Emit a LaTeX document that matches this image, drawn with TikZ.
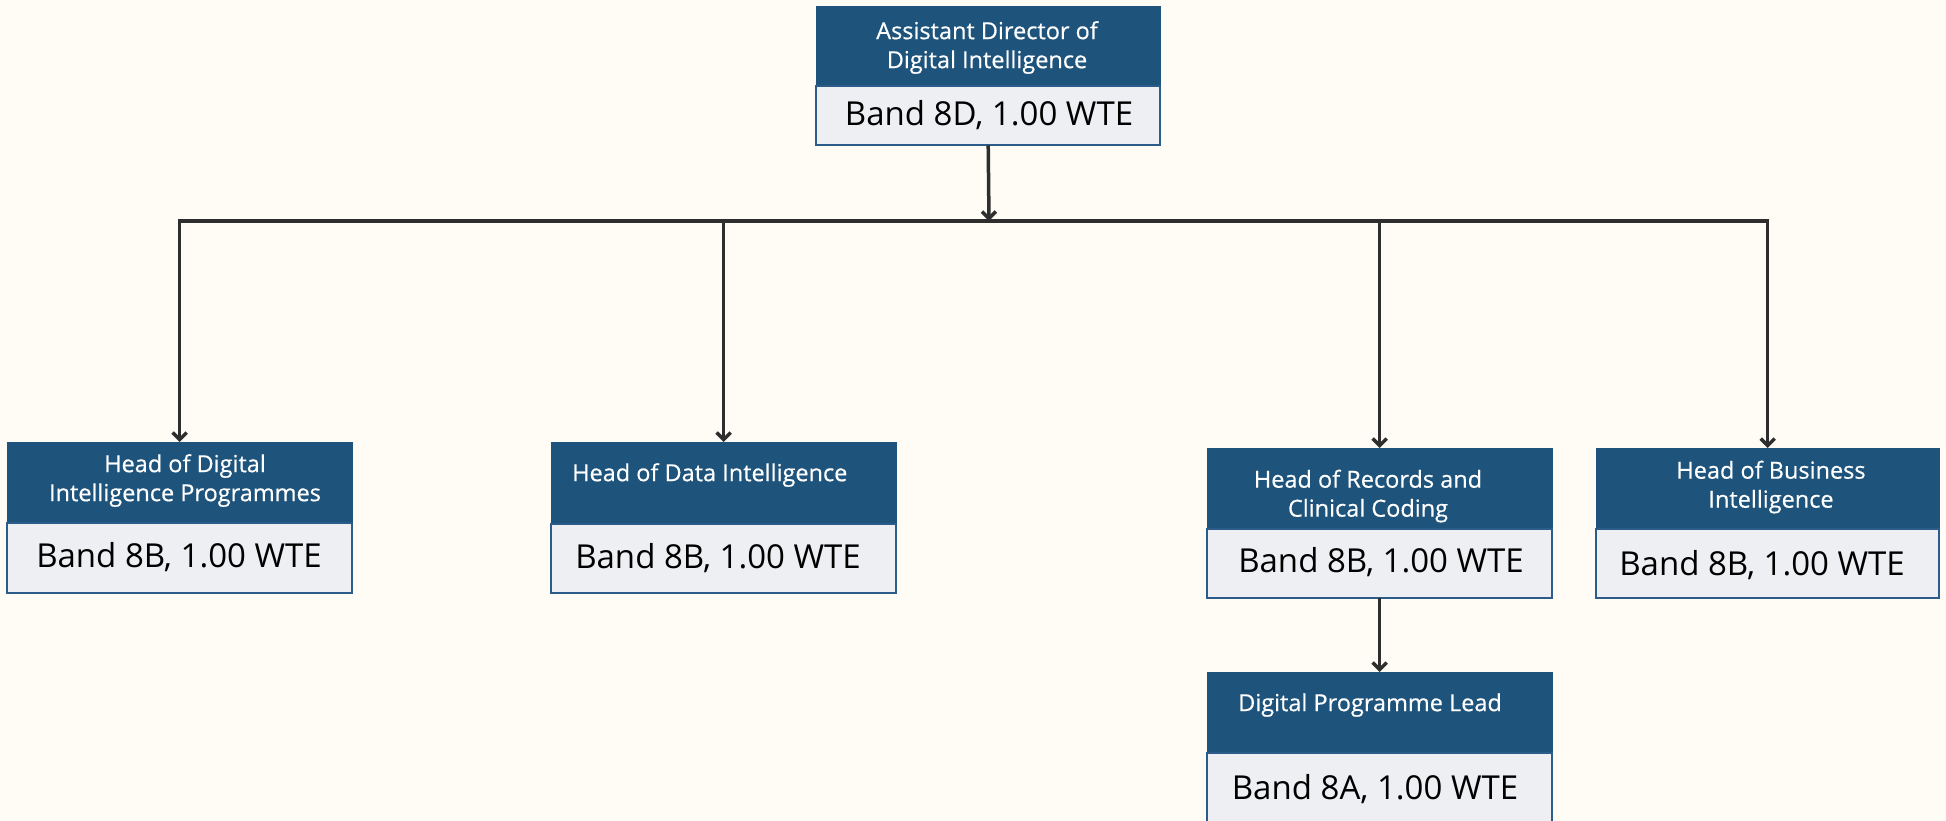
\documentclass[tikz,border=0pt]{standalone}
\usepackage{fontspec}
\setmainfont{Open Sans}
\newfontfamily\hdrfont[FakeBold=0.5]{Open Sans}
\usetikzlibrary{arrows.meta}
\definecolor{bgcol}{HTML}{FFFCF5}
\definecolor{hdrblue}{HTML}{1E547C}
\definecolor{bodygray}{HTML}{EEEFF2}
\definecolor{bordblue}{HTML}{2B5C8A}
\definecolor{linecol}{HTML}{2E2E2E}
\tikzset{
  hdrbox/.style={draw=hdrblue, fill=hdrblue, line width=1pt},
  bodybox/.style={draw=bordblue, fill=bodygray, line width=2pt},
  hdrtext/.style={text=white, font=\hdrfont\fontsize{23.5}{29}\selectfont, align=center, inner sep=0pt},
  bandtext/.style={text=black, font=\fontsize{33}{38}\selectfont, inner sep=0pt},
  conn/.style={draw=linecol, line width=3.5pt},
  arr/.style={conn, -{Straight Barb[length=7pt,width=14pt,line width=3.5pt]}}
}
\begin{document}
\begin{tikzpicture}[x=1pt,y=-1pt]
\useasboundingbox (0,0) rectangle (1946,821);
\fill[bgcol] (0,0) rectangle (1946,821);

% top box
\path[hdrbox] (816,7) rectangle (1160,86);
\path[bodybox] (816,86) rectangle (1160,145);
\node[minimum width=344pt, minimum height=138pt, anchor=north west, inner sep=0pt] (top) at (816,7) {};
\node[hdrtext] (toph) at (987,47.5) {Assistant Director of\\Digital Intelligence};
\node[bandtext] (topb) at (989,115) {Band 8D, 1.00 WTE};

% box 1
\path[hdrbox] (7,442) rectangle (352,523);
\path[bodybox] (7,523) rectangle (352,593);
\node[minimum width=345pt, minimum height=151pt, anchor=north west, inner sep=0pt] (b1) at (7,442) {};
\node[hdrtext] (b1h) at (185,480.5) {Head of Digital\\Intelligence Programmes};
\node[bandtext] (b1b) at (179,557) {Band 8B, 1.00 WTE};

% box 2
\path[hdrbox] (551,442) rectangle (896,524);
\path[bodybox] (551,524) rectangle (896,593);
\node[minimum width=345pt, minimum height=151pt, anchor=north west, inner sep=0pt] (b2) at (551,442) {};
\node[hdrtext, anchor=west] (b2h) at (572,475) {Head of Data Intelligence};
\node[bandtext] (b2b) at (718,558) {Band 8B, 1.00 WTE};

% box 3
\path[hdrbox] (1207,448) rectangle (1552,529);
\path[bodybox] (1207,529) rectangle (1552,598);
\node[minimum width=345pt, minimum height=150pt, anchor=north west, inner sep=0pt] (b3) at (1207,448) {};
\node[hdrtext] (b3h) at (1368,496) {Head of Records and\\Clinical Coding};
\node[bandtext] (b3b) at (1381,562) {Band 8B, 1.00 WTE};

% box 4
\path[hdrbox] (1596,448) rectangle (1939,529);
\path[bodybox] (1596,529) rectangle (1939,598);
\node[minimum width=343pt, minimum height=150pt, anchor=north west, inner sep=0pt] (b4) at (1596,448) {};
\node[hdrtext] (b4h) at (1771,487) {Head of Business\\Intelligence};
\node[bandtext] (b4b) at (1762,565) {Band 8B, 1.00 WTE};

% box 5
\path[hdrbox] (1207,672) rectangle (1552,753);
\path[bodybox] (1207,753) rectangle (1552,830);
\node[minimum width=345pt, minimum height=158pt, anchor=north west, inner sep=0pt] (b5) at (1207,672) {};
\node[hdrtext, anchor=west] (b5h) at (1238,705) {Digital Programme Lead};
\node[bandtext] (b5b) at (1375,789) {Band 8A, 1.00 WTE};

% connectors
\coordinate (jn) at (989,221);
\draw[arr] (top.south) -- (jn);
\draw[arr] (jn) -| (b1.north);
\draw[arr] (jn) -| (b4.north);
\draw[arr] (b2.north |- jn) -- (b2.north);
\draw[arr] (b3.north |- jn) -- (b3.north);
\draw[arr] (b3.south) -- (b5.north);
\end{tikzpicture}
\end{document}
